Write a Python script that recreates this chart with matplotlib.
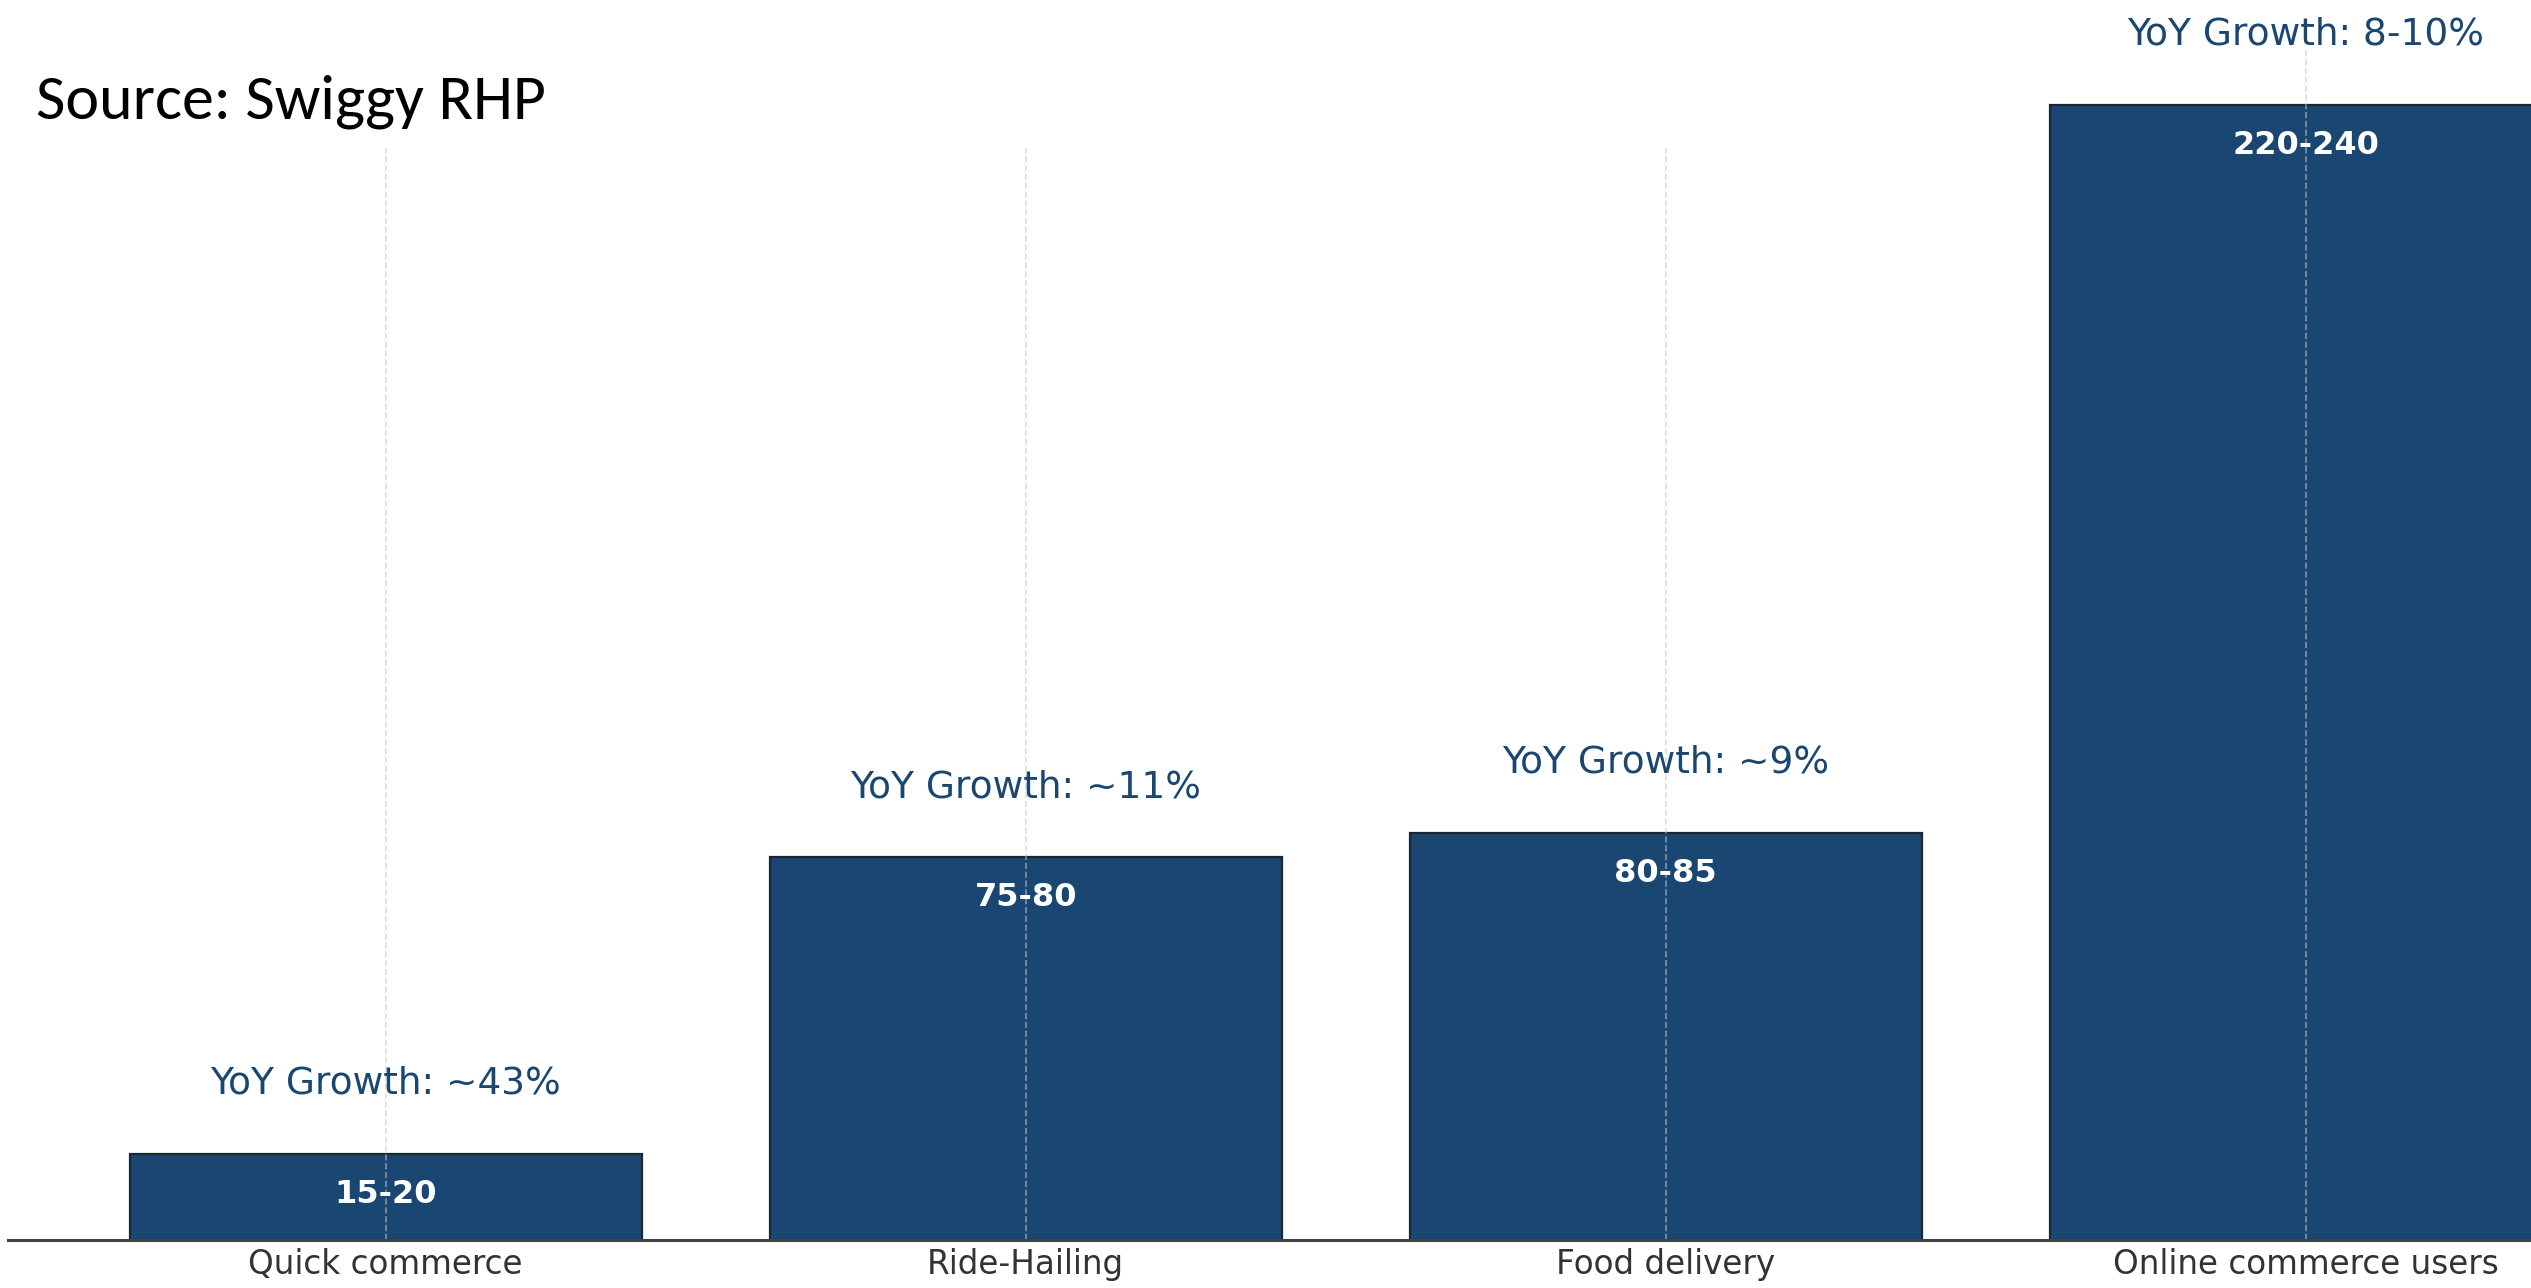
import matplotlib
matplotlib.use("Agg")
import matplotlib.pyplot as plt
from matplotlib.patches import Rectangle

# Platform user bases (millions), shown as ranges with the bar drawn at the midpoint
categories = ["Quick commerce", "Ride-Hailing", "Food delivery", "Online commerce users"]
range_labels = ["15-20", "75-80", "80-85", "220-240"]
range_low = [15, 75, 80, 220]
range_high = [20, 80, 85, 240]
growth_labels = ["YoY Growth: ~43%", "YoY Growth: ~11%", "YoY Growth: ~9%", "YoY Growth: 8-10%"]

bar_values = [(lo + hi) / 2 for lo, hi in zip(range_low, range_high)]

W, H, DPI = 2531, 1288, 100
fig = plt.figure(figsize=(W / DPI, H / DPI), dpi=DPI, facecolor="white")

# Axes run slightly past the right edge of the canvas
ax = fig.add_axes([8 / W, (H - 1240) / H, 1.057, (1240 - 48) / H])

navy = "#1a4672"
x = list(range(len(categories)))
bars = ax.bar(x, bar_values, width=0.8, color=navy, edgecolor="#1b2633", linewidth=1.6)

ax.set_xticks(x)
ax.set_xticklabels(categories, fontsize=23.5, color="#333333")
ax.tick_params(axis="x", length=0, pad=5.5)
ax.set_yticks([])

ax.grid(axis="x", linestyle="--", color="#c8c8c8", alpha=0.6, linewidth=1.2)

for side in ("left", "top", "right"):
    ax.spines[side].set_visible(False)
ax.spines["bottom"].set_color("#444444")
ax.spines["bottom"].set_linewidth(2.2)

for xi, val, rl, gl in zip(x, bar_values, range_labels, growth_labels):
    ax.text(xi, val - 8.2, rl, ha="center", va="center", color="white",
            fontsize=23, fontweight="bold")
    ax.text(xi, val + 14.2, gl, ha="center", va="center", color=navy,
            fontsize=27, clip_on=False)

# White band carrying the source note
fig.patches.append(Rectangle((0, (H - 148) / H), 0.75, 98 / H,
                             transform=fig.transFigure, facecolor="white",
                             edgecolor="none", zorder=1))
fig.text(36 / W, 1 - 102 / H, "Source: Swiggy RHP", ha="left", va="center",
         fontsize=46, color="black", family=["Carlito", "Lato"], zorder=2)

fig.savefig("out.png", dpi=DPI, facecolor="white")
